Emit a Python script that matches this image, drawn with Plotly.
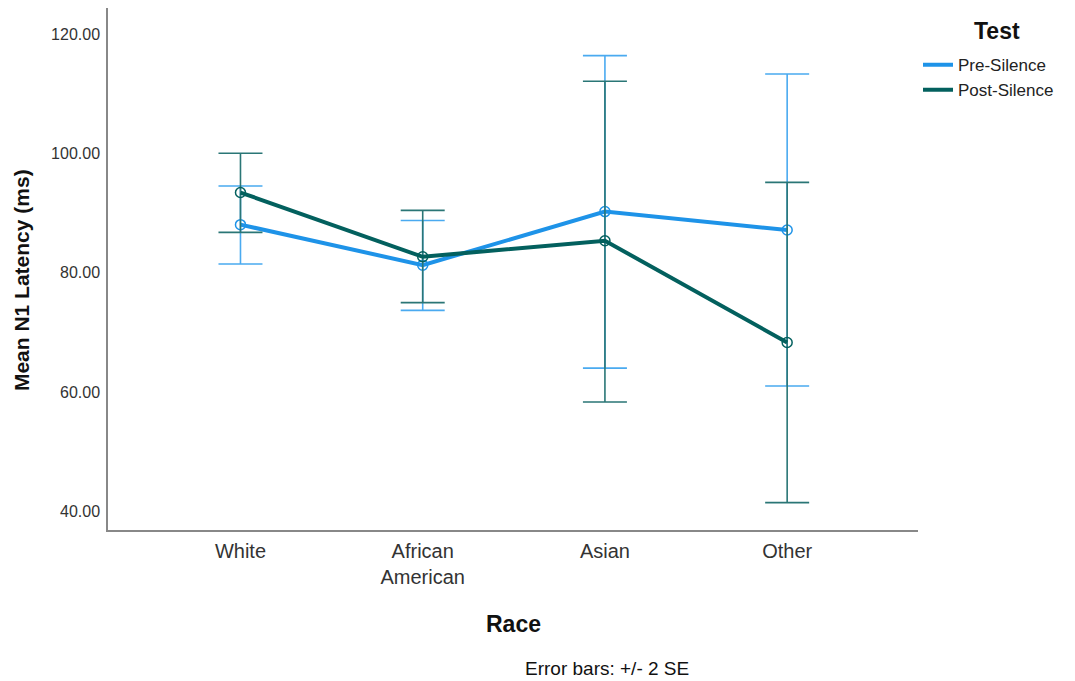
import plotly.graph_objects as go

# Mean N1 latency by race, before and after silence, with +/- 2 SE bounds
races = ["White", "African<br>American", "Asian", "Other"]

pre_mean = [88.1, 81.3, 90.3, 87.2]
pre_upper = [94.6, 88.8, 116.5, 113.4]
pre_lower = [81.5, 73.7, 64.0, 61.0]

post_mean = [93.5, 82.7, 85.4, 68.3]
post_upper = [100.1, 90.5, 112.2, 95.2]
post_lower = [86.8, 75.0, 58.3, 41.4]

y_ticks = [40, 60, 80, 100, 120]

PRE_LINE = "#1E93E8"
PRE_ERR = "#4AAAF0"
POST_LINE = "#03605E"
POST_ERR = "#2A7676"

x_pos = list(range(len(races)))
FONT = "Liberation Sans, Arial, sans-serif"


def series(name, mean, upper, lower, line_col, err_col):
    return go.Scatter(
        x=x_pos,
        y=mean,
        name=name,
        showlegend=False,
        mode="lines+markers",
        line=dict(color=line_col, width=4),
        marker=dict(symbol="circle-open", size=10, color=line_col,
                    line=dict(width=1.5, color=line_col)),
        error_y=dict(
            type="data",
            symmetric=False,
            array=[u - m for u, m in zip(upper, mean)],
            arrayminus=[m - l for m, l in zip(mean, lower)],
            color=err_col,
            thickness=1.6,
            width=22,
        ),
    )


def legend_key(name, line_col):
    # line-only key so the legend shows a plain stroke
    return go.Scatter(x=[None], y=[None], name=name, mode="lines",
                      line=dict(color=line_col, width=4))


fig = go.Figure()
fig.add_trace(series("Pre-Silence", pre_mean, pre_upper, pre_lower, PRE_LINE, PRE_ERR))
fig.add_trace(series("Post-Silence", post_mean, post_upper, post_lower, POST_LINE, POST_ERR))
fig.add_trace(legend_key("Pre-Silence", PRE_LINE))
fig.add_trace(legend_key("Post-Silence", POST_LINE))

fig.update_layout(
    width=1075,
    height=681,
    margin=dict(l=108, r=157, t=8, b=151, autoexpand=False),
    paper_bgcolor="white",
    plot_bgcolor="white",
    font=dict(family=FONT, color="#222222"),
    showlegend=True,
    legend=dict(
        x=1.0, xanchor="left",
        y=0.925, yanchor="top",
        font=dict(size=17, color="#222222", family=FONT),
        bgcolor="rgba(0,0,0,0)",
        itemwidth=30,
        tracegroupgap=0,
    ),
    xaxis=dict(
        range=[-0.727, 3.718],
        tickmode="array",
        tickvals=x_pos,
        ticktext=races,
        tickfont=dict(size=20, color="#333333", family=FONT),
        showgrid=False,
        zeroline=False,
        showline=True,
        linecolor="#888888",
        linewidth=1.5,
        ticks="",
        ticklabelstandoff=2,
    ),
    yaxis=dict(
        range=[36.8, 124.5],
        tickmode="array",
        tickvals=y_ticks,
        ticktext=[f"{v:.2f}" for v in y_ticks],
        tickfont=dict(size=16, color="#333333", family=FONT),
        showgrid=False,
        zeroline=False,
        showline=True,
        linecolor="#888888",
        linewidth=1.5,
        ticks="",
        ticklabelstandoff=3,
    ),
    annotations=[
        dict(text="<b>Mean N1 Latency (ms)</b>", xref="paper", yref="paper",
             x=-0.106, y=0.479, xanchor="center", yanchor="middle", textangle=-90,
             showarrow=False, font=dict(size=21, color="#111111", family=FONT)),
        dict(text="<b>Race</b>", xref="paper", yref="paper",
             x=0.5, y=-0.181, xanchor="center", yanchor="middle",
             showarrow=False, font=dict(size=23, color="#111111", family=FONT)),
        dict(text="Error bars: +/- 2 SE", xref="paper", yref="paper",
             x=0.616, y=-0.265, xanchor="center", yanchor="middle",
             showarrow=False, font=dict(size=19, color="#111111", family=FONT)),
        dict(text="<b>Test</b>", xref="paper", yref="paper",
             x=1.0975, y=0.956, xanchor="center", yanchor="middle",
             showarrow=False, font=dict(size=23, color="#111111", family=FONT)),
    ],
)

fig.write_html("out.html")
